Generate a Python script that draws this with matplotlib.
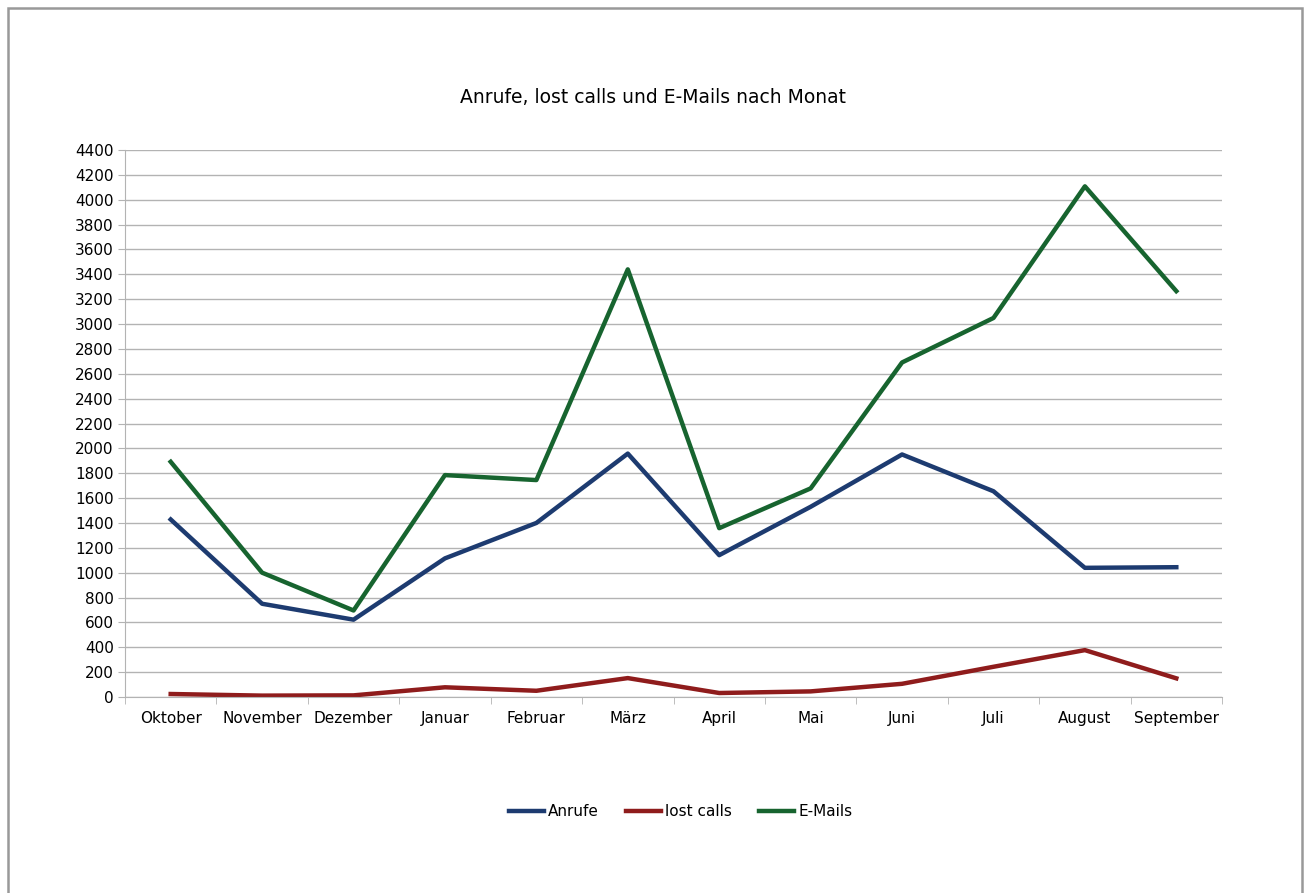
import numpy as np
import matplotlib
matplotlib.use("Agg")
import matplotlib.pyplot as plt
from matplotlib.patches import Rectangle

# Monate und Werte
monate = ["Oktober", "November", "Dezember", "Januar", "Februar", "März",
          "April", "Mai", "Juni", "Juli", "August", "September"]
anrufe = [1428, 750, 622, 1115, 1400, 1958, 1141, 1530, 1951, 1655, 1039, 1044]
lost_calls = [24, 11, 13, 78, 50, 152, 32, 45, 106, 243, 377, 150]
emails = [1892, 1000, 696, 1785, 1745, 3440, 1358, 1678, 2691, 3049, 4108, 3265]

y_ticks = list(range(0, 4401, 200))

fig = plt.figure(figsize=(13.06, 8.93), dpi=100)
# grauer Rahmen (unten offen, wie im Original)
fig.patches.append(Rectangle((0.0065, -0.02), 0.9905, 1.011, transform=fig.transFigure,
                             fill=False, edgecolor="#999999", linewidth=1.8))

ax = fig.add_axes([0.0957, 0.2195, 0.84, 0.6125])
x = np.arange(len(monate))

ax.plot(x, anrufe, color="#1d3b70", lw=3.2, label="Anrufe")
ax.plot(x, lost_calls, color="#8f1c1c", lw=3.2, label="lost calls")
ax.plot(x, emails, color="#17642f", lw=3.2, label="E-Mails")

ax.set_xlim(-0.5, len(monate) - 0.5)
ax.set_ylim(0, 4400)
ax.set_yticks(y_ticks)
ax.set_xticks(x)
ax.set_xticklabels(monate)
ax.set_xticks(np.arange(-0.5, len(monate), 1), minor=True)
ax.tick_params(axis="x", which="major", length=0, pad=10, labelsize=11)
ax.tick_params(axis="x", which="minor", length=5, color="#b3b3b3")
ax.tick_params(axis="y", length=5, color="#b3b3b3", labelsize=11, pad=3)

ax.grid(axis="y", color="#b3b3b3", lw=1)
ax.set_axisbelow(True)
for s in ["top", "right"]:
    ax.spines[s].set_visible(False)
for s in ["left", "bottom"]:
    ax.spines[s].set_color("#b3b3b3")

fig.text(0.5, 0.891, "Anrufe, lost calls und E-Mails nach Monat",
         ha="center", va="center", fontsize=13.5)

fig.legend(loc="center", bbox_to_anchor=(0.521, 0.091), ncol=3, frameon=False,
           fontsize=11, handlelength=2.3, handletextpad=0.25, columnspacing=1.8)

fig.savefig("out.png", dpi=100)
